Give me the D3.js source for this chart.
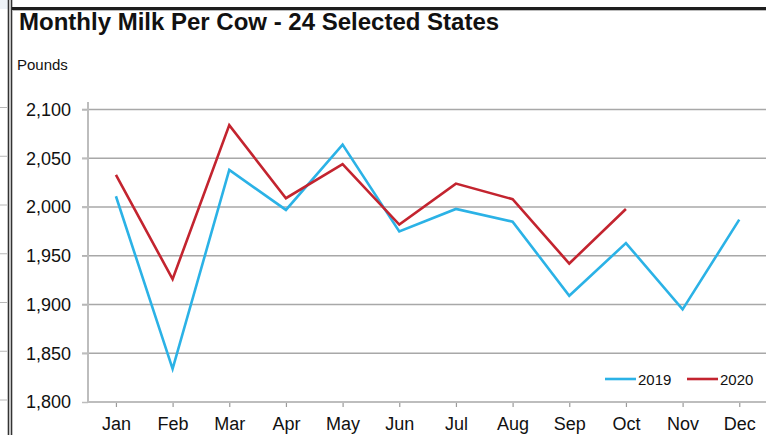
<!DOCTYPE html>
<html>
<head>
<meta charset="utf-8">
<script src="https://cdn.jsdelivr.net/npm/d3@7"></script>
<style>
  body { margin: 0; background: #fff; }
  svg { display: block; font-family: "Liberation Sans", Arial, sans-serif; }
</style>
</head>
<body>
<div id="chart"></div>
<script>
// Données (livres par vache)
const months = ["Jan", "Feb", "Mar", "Apr", "May", "Jun", "Jul", "Aug", "Sep", "Oct", "Nov", "Dec"];
const milk2019 = [2011, 1834, 2038, 1997, 2064, 1975, 1998, 1985, 1909, 1963, 1895, 1987];
const milk2020 = [2033, 1926, 2084, 2009, 2044, 1982, 2024, 2008, 1942, 1998];
const yTicks = [1800, 1850, 1900, 1950, 2000, 2050, 2100];
const seriesNames = ["2019", "2020"];
const seriesColors = ["#2bb2e6", "#c3242f"];

const width = 766;
const height = 435;

const svg = d3.select("#chart")
  .append("svg")
  .attr("width", width)
  .attr("height", height);

// Échelles
const x = d3.scalePoint().domain(months).range([87.6, 767.6]).padding(0.5);
const y = d3.scaleLinear().domain([1800, 2100]).range([402, 109.5]);

// Cadre de la page
svg.append("rect").attr("x", 0).attr("y", 0).attr("width", 8).attr("height", 9).attr("fill", "#eef2f6");
svg.append("g")
  .selectAll("line")
  .data(yTicks)
  .join("line")
  .attr("x1", 0).attr("x2", 7)
  .attr("y1", d => y(d) - 2).attr("y2", d => y(d) - 2)
  .attr("stroke", "#b8b8b8").attr("stroke-width", 1);
svg.append("line").attr("x1", 8.5).attr("x2", 8.5).attr("y1", 0).attr("y2", height)
  .attr("stroke", "#333").attr("stroke-width", 1.6);
svg.append("line").attr("x1", 11.5).attr("x2", 11.5).attr("y1", 0).attr("y2", height)
  .attr("stroke", "#333").attr("stroke-width", 1.6);
svg.append("line").attr("x1", 12).attr("x2", width).attr("y1", 8.5).attr("y2", 8.5)
  .attr("stroke", "#1e1e1e").attr("stroke-width", 3);
svg.append("line").attr("x1", 12).attr("x2", width).attr("y1", 10.5).attr("y2", 10.5)
  .attr("stroke", "#bbb").attr("stroke-width", 1);

// Titre
svg.append("text")
  .attr("x", 19).attr("y", 30)
  .attr("font-size", 24).attr("font-weight", "bold").attr("fill", "#111")
  .text("Monthly Milk Per Cow - 24 Selected States");

svg.append("text")
  .attr("x", 17).attr("y", 70)
  .attr("font-size", 15).attr("fill", "#111")
  .text("Pounds");

// Grille horizontale
svg.append("g")
  .selectAll("line")
  .data(yTicks.filter(d => d > 1800))
  .join("line")
  .attr("x1", 82).attr("x2", width)
  .attr("y1", d => y(d)).attr("y2", d => y(d))
  .attr("stroke", "#a8a8a8").attr("stroke-width", 1.5);

// Axe Y
const yAxis = svg.append("g")
  .attr("transform", "translate(88,0)")
  .call(d3.axisLeft(y).tickValues(yTicks).tickSize(6).tickPadding(11).tickFormat(d3.format(",")));
yAxis.select(".domain").remove();
yAxis.selectAll(".tick line").attr("stroke", "#bdbdbd").attr("stroke-width", 1.5);
yAxis.selectAll(".tick text").attr("font-size", 18).attr("fill", "#111")
  .attr("font-family", "Liberation Sans, Arial, sans-serif");
svg.append("line").attr("x1", 88).attr("x2", 88).attr("y1", 102).attr("y2", 402)
  .attr("stroke", "#bdbdbd").attr("stroke-width", 2);

// Axe X
const xAxis = svg.append("g")
  .attr("transform", "translate(0,402)")
  .call(d3.axisBottom(x).tickSize(5).tickPadding(10));
xAxis.select(".domain").remove();
xAxis.selectAll(".tick line").attr("stroke", "#9a9a9a").attr("stroke-width", 1.2);
xAxis.selectAll(".tick text").attr("font-size", 18).attr("fill", "#111")
  .attr("font-family", "Liberation Sans, Arial, sans-serif");
svg.append("line").attr("x1", 88).attr("x2", width).attr("y1", 402).attr("y2", 402)
  .attr("stroke", "#bdbdbd").attr("stroke-width", 2);

// Courbes
const line = d3.line()
  .x((d, i) => x(months[i]))
  .y(d => y(d));

[milk2019, milk2020].forEach((values, k) => {
  svg.append("path")
    .datum(values)
    .attr("fill", "none")
    .attr("stroke", seriesColors[k])
    .attr("stroke-width", 2.6)
    .attr("stroke-linejoin", "miter")
    .attr("d", line);
});

// Légende
const legend = svg.append("g").attr("class", "legend");
const legendX = [605, 687];
seriesNames.forEach((name, k) => {
  legend.append("line")
    .attr("x1", legendX[k]).attr("x2", legendX[k] + 31)
    .attr("y1", 379).attr("y2", 379)
    .attr("stroke", seriesColors[k]).attr("stroke-width", 2.6);
  legend.append("text")
    .attr("x", legendX[k] + 33).attr("y", 384.5)
    .attr("font-size", 15).attr("fill", "#111")
    .text(name);
});
</script>
</body>
</html>
